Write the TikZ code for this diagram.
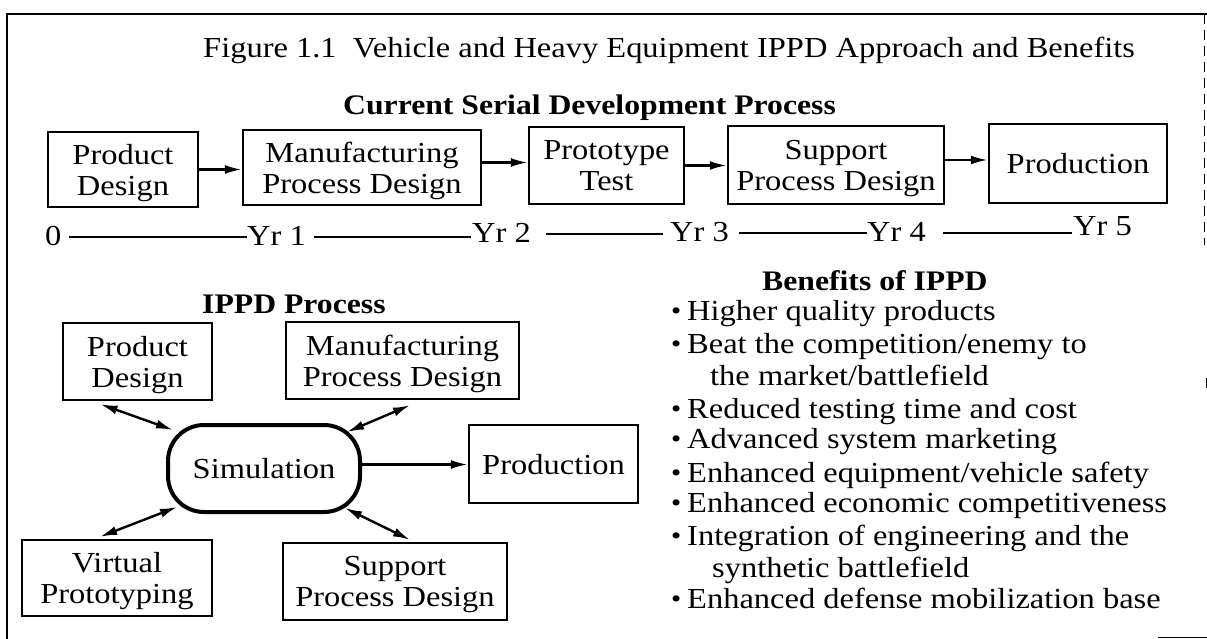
\documentclass[tikz,border=0pt]{standalone}
\usepackage{fontspec}
\setmainfont{Liberation Serif}[FakeStretch=1.12]
\usetikzlibrary{arrows.meta,calc}
\newcommand\bulletmark{\makebox[16pt][l]{\raisebox{0.5pt}{\fontsize{26}{26}\selectfont\textbullet}}}
\begin{document}
\begin{tikzpicture}[x=1pt,y=-1pt,
  pbox/.style={draw, line width=2.4pt, align=center, inner sep=0pt, text depth=0pt,
    font=\fontsize{29}{31}\selectfont},
  simbox/.style={pbox, line width=4pt, rounded corners=36pt},
  head/.style={anchor=base west, inner sep=0pt, font=\bfseries\fontsize{28.3}{30}\selectfont},
  lbl/.style={anchor=base west, inner sep=0pt, font=\fontsize{29}{31}\selectfont},
  tick/.style={lbl, text height=17pt, text depth=0pt},
  arr/.style={line width=2.4pt, -{Latex[length=17pt,width=9pt]}},
  darr/.style={line width=2.4pt, {Latex[length=17pt,width=9pt]}-{Latex[length=17pt,width=9pt]}},
  tline/.style={line width=2pt}]
\useasboundingbox (0,0) rectangle (1207,639);

% frame
\draw[line width=2.2pt] (1207,14) -- (7,14) -- (7,639);
\draw[line width=0.7pt, dash pattern=on 10pt off 6pt] (1204,14) -- (1204,245);
\draw[line width=0.7pt] (1206,378) -- (1206,388);
\draw[line width=1.5pt] (1158,637.5) -- (1207,637.5);

% title and headings
\node[lbl] (title) at (203,58) {Figure 1.1\ \ Vehicle and Heavy Equipment IPPD Approach and Benefits};
\node[head] (hserial) at (343,115) {Current Serial Development Process};
\node[head] (hippd) at (202,313) {IPPD Process};
\node[head] (hben) at (762,290) {Benefits of IPPD};

% serial process
\node[pbox, minimum width=150pt, minimum height=75pt] (b1) at (123,169.5) {Product\\Design};
\node[pbox, minimum width=238pt, minimum height=75pt] (b2) at (362,167.5) {Manufacturing\\Process Design};
\node[pbox, minimum width=155pt, minimum height=77pt] (b3) at (606.5,165.5) {Prototype\\Test};
\node[pbox, minimum width=216pt, minimum height=78pt] (b4) at (836,165) {Support\\Process Design};
\node[pbox, minimum width=178pt, minimum height=79pt] (b5) at (1078,163.5) {Production};
\draw[arr] (b1.east) -- (b1.east -| b2.west);
\draw[arr] ($(b2.east)+(0,-5)$) -- ($(b2.east -| b3.west)+(0,-5)$);
\draw[arr] (b3.east) -- (b3.east -| b4.west);
\draw[arr] ($(b4.east)+(0,-5)$) -- ($(b4.east -| b5.west)+(0,-5)$);

% timeline
\node[tick] (t0) at (45,245) {0};
\node[tick] (t1) at (247,245) {Yr 1};
\node[tick] (t2) at (472,242) {Yr 2};
\node[tick] (t3) at (670,241) {Yr 3};
\node[tick] (t4) at (867,241) {Yr 4};
\node[tick] (t5) at (1073,235) {Yr 5};
\draw[tline, shorten <=7pt] (t0.east) -- (t0.east -| t1.west);
\draw[tline, shorten <=8pt, shorten >=1pt] (t1.east) -- (t1.east -| t2.west);
\draw[tline, shorten <=15pt, shorten >=7pt] (t2.east) -- (t2.east -| t3.west);
\draw[tline, shorten <=10pt] (t3.east) -- (t3.east -| t4.west);
\draw[tline, shorten <=17pt, shorten >=1pt] (t4.east) -- (t4.east -| t5.west);

% IPPD process
\node[pbox, minimum width=149pt, minimum height=77pt] (pd2) at (137.5,361.5) {Product\\Design};
\node[pbox, minimum width=233pt, minimum height=77pt] (mpd2) at (402.5,360.5) {Manufacturing\\Process Design};
\node[simbox, minimum width=192pt, minimum height=87pt] (sim) at (264,468.5) {Simulation};
\node[pbox, minimum width=169pt, minimum height=78pt] (prod2) at (553.5,464) {Production};
\node[pbox, minimum width=190pt, minimum height=76pt] (vp) at (117,578) {Virtual\\Prototyping};
\node[pbox, minimum width=224pt, minimum height=77pt] (sup2) at (395,581.5) {Support\\Process Design};
\draw[darr] ($(pd2.south)+(-37,3)$) -- ($(sim.north west)+(7,7)$);
\draw[darr] ($(mpd2.south)+(7.5,5)$) -- ($(sim.north east)+(-15,9)$);
\draw[darr] ($(sim.south west)+(11,-7)$) -- ($(vp.north)+(-17,-2)$);
\draw[darr] ($(sim.south east)+(-17,-6)$) -- ($(sup2.north)+(15,-2)$);
\draw[arr] ($(sim.east)+(0,-4)$) -- ($(sim.east -| prod2.west)+(0,-4)$);

% benefits
\node[lbl] (l1) at (671,320) {\bulletmark Higher quality products};
\node[lbl] (l2) at (671,353) {\bulletmark Beat the competition/enemy to};
\node[lbl] (l2b) at (710,385) {the market/battlefield};
\node[lbl] (l3) at (671,418) {\bulletmark Reduced testing time and cost};
\node[lbl] (l4) at (671,448) {\bulletmark Advanced system marketing};
\node[lbl] (l5) at (671,482) {\bulletmark Enhanced equipment/vehicle safety};
\node[lbl] (l6) at (671,512) {\bulletmark Enhanced economic competitiveness};
\node[lbl] (l7) at (671,545) {\bulletmark Integration of engineering and the};
\node[lbl] (l7b) at (712,577) {synthetic battlefield};
\node[lbl] (l8) at (671,608) {\bulletmark Enhanced defense mobilization base};
\end{tikzpicture}
\end{document}
